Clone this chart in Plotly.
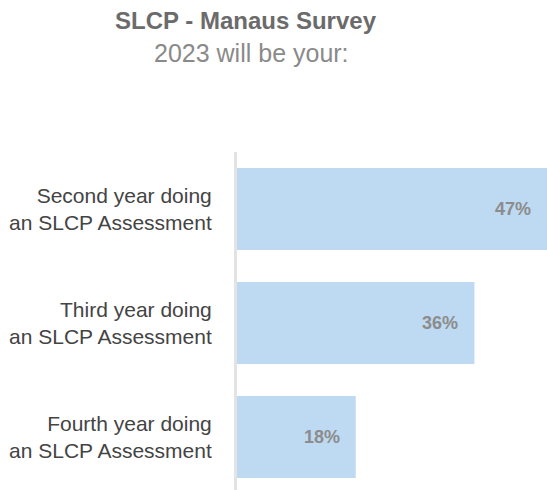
import plotly.graph_objects as go

categories = ["Second year doing<br>an SLCP Assessment",
              "Third year doing<br>an SLCP Assessment",
              "Fourth year doing<br>an SLCP Assessment"]
values = [47, 36, 18]
value_labels = ["47%", "36%", "18%"]
title_text = "SLCP - Manaus Survey"
subtitle_text = "2023 will be your:"

FONT = "Liberation Sans, Arial, sans-serif"

W, H = 547, 490
L, T = 237, 152
PW, PH = W - L, H - T
UNIT = 114.0  # px per category slot

fig = go.Figure()
fig.add_trace(go.Bar(
    x=values, y=categories, orientation="h",
    marker=dict(color="#BED9F2", line=dict(width=0)),
    width=0.72, hoverinfo="skip",
))

annotations = []
for v, c, t in zip(values, categories, value_labels):
    annotations.append(dict(x=v, y=c, xref="x", yref="y", text="<b>%s</b>" % t,
                            showarrow=False, xanchor="right", yanchor="middle",
                            xshift=-14, font=dict(family=FONT, size=18, color="#8C8C8C")))

annotations.append(dict(x=(246 - L) / PW, y=(H - 20) / PH, xref="paper", yref="paper",
                        text="<b>%s</b>" % title_text, showarrow=False,
                        xanchor="center", yanchor="middle",
                        font=dict(family=FONT, size=24, color="#6B6B6B")))
annotations.append(dict(x=(251.5 - L) / PW, y=(H - 53) / PH, xref="paper", yref="paper",
                        text=subtitle_text, showarrow=False,
                        xanchor="center", yanchor="middle",
                        font=dict(family=FONT, size=25, color="#8A8A8A")))

fig.update_layout(
    width=W, height=H,
    margin=dict(l=L, r=0, t=T, b=0, autoexpand=False),
    paper_bgcolor="white", plot_bgcolor="white",
    showlegend=False,
    annotations=annotations,
    font=dict(family=FONT),
    xaxis=dict(range=[0, 47], visible=False, fixedrange=True, automargin=False),
    yaxis=dict(categoryorder="array", categoryarray=categories, automargin=False,
               range=[PH / UNIT - 0.5, -0.5], showline=True, linecolor="#E3E3E3", linewidth=3,
               showgrid=False, zeroline=False, ticks="", ticklabelstandoff=18,
               tickfont=dict(family=FONT, size=21, color="#444444")),
)

fig.write_html(
    "out.html",
    config={"displayModeBar": False},
    post_script="document.body.style.margin='0';document.documentElement.style.overflow='hidden';",
)
